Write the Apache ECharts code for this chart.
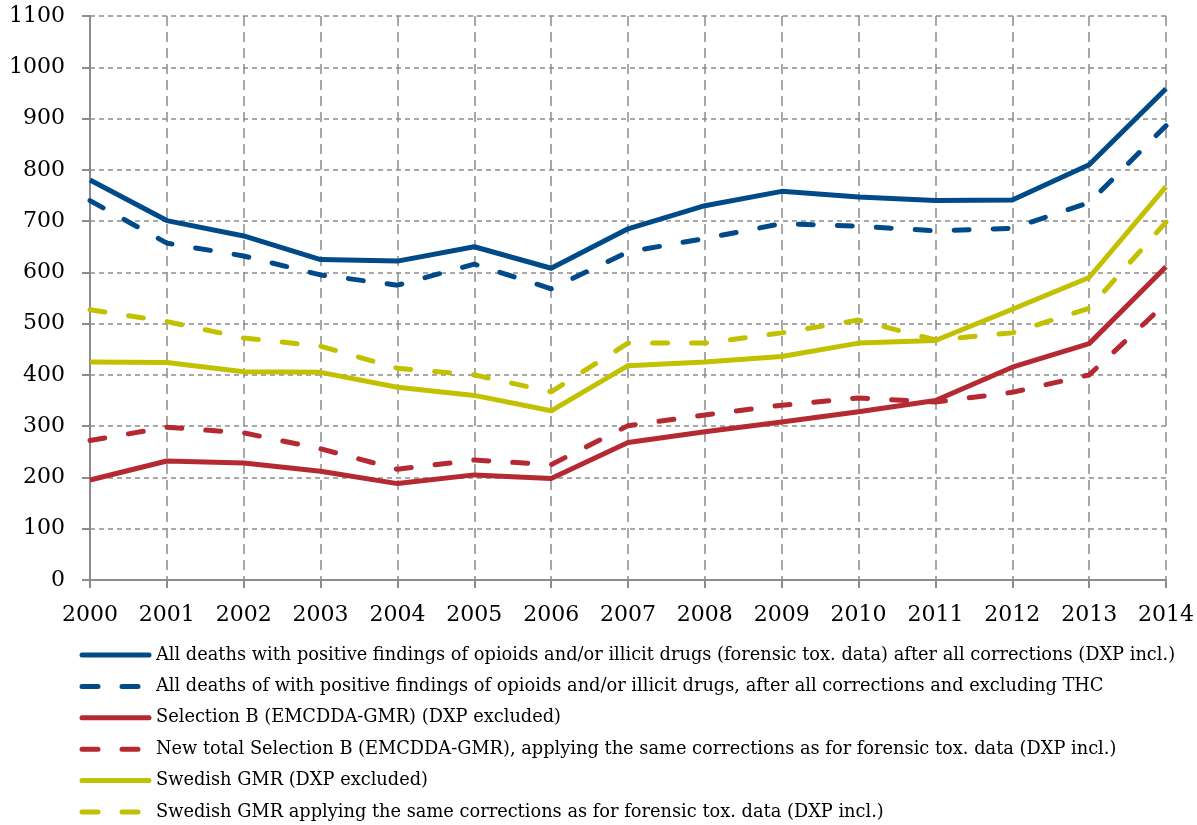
<!DOCTYPE html>
<html><head><meta charset="utf-8">
<script src="https://cdn.jsdelivr.net/npm/echarts@6/dist/echarts.min.js"></script>
<style>html,body{margin:0;padding:0;background:#fff}#c{width:1197px;height:825px}</style>
</head><body><div id="c"></div>
<script>
const years = ['2000','2001','2002','2003','2004','2005','2006','2007','2008','2009','2010','2011','2012','2013','2014'];
const allDeaths      = [780,701,671,625,622,650,608,685,730,758,747,740,741,810,958];
const allDeathsExTHC = [740,657,632,595,575,616,568,640,666,695,690,681,686,736,886];
const selB           = [195,232,228,212,188,205,198,268,289,308,328,350,415,461,611];
const selBNew        = [272,298,287,256,216,234,225,301,322,341,355,347,366,400,540];
const swedGMR        = [425,424,406,405,376,360,330,418,425,436,462,467,528,590,767];
const swedGMRNew     = [527,504,472,456,413,400,367,462,462,482,507,468,482,530,698];
const names = [
 'All deaths with positive findings of opioids and/or illicit drugs (forensic tox. data) after all corrections (DXP incl.)',
 'All deaths of with positive findings of opioids and/or illicit drugs, after all corrections and excluding THC',
 'Selection B (EMCDDA-GMR) (DXP excluded)',
 'New total Selection B (EMCDDA-GMR), applying the same corrections as for forensic tox. data (DXP incl.)',
 'Swedish GMR (DXP excluded)',
 'Swedish GMR applying the same corrections as for forensic tox. data (DXP incl.)'
];
const dashedFlags = [false,true,false,true,false,true];
const BLUE='#004a8a', RED='#b52a32', YEL='#c2c000';
const colors = [BLUE,BLUE,RED,RED,YEL,YEL];
const seriesData = [allDeaths, allDeathsExTHC, selB, selBNew, swedGMR, swedGMRNew];
const FONT='DejaVu Serif';
function mk(i){
  const dashed = dashedFlags[i], color = colors[i];
  return {name:names[i], type:'line', data:seriesData[i], symbol:'none', animation:false,
    lineStyle:{color, width:5, type: dashed ? [15,24] : 'solid', cap: dashed?'round':'butt', join:'round'},
    itemStyle:{color}};
}
const chart = echarts.init(document.getElementById('c'), null, {renderer:'canvas'});
chart.setOption({
  animation:false,
  grid:{left:90, right:31, top:16, height:564},
  legend:{orient:'vertical', left:79.5, top:645, height:185, padding:0,
    itemWidth:67, itemHeight:20, itemGap:11.4,
    itemStyle:{opacity:0},
    textStyle:{fontFamily:FONT, fontSize:17.8, lineHeight:20, color:'#000', padding:[0,0,0,2]},
    data:names.map((n,i)=>({name:n, lineStyle:{width:5, cap:'round', type: dashedFlags[i] ? [16,24] : 'solid'}}))},
  xAxis:{type:'category', data:years, boundaryGap:false,
    axisLine:{lineStyle:{color:'#8c8c8c', width:2}},
    axisTick:{show:true, length:8, lineStyle:{color:'#8c8c8c', width:2}},
    axisLabel:{fontFamily:FONT, fontSize:22, color:'#000', margin:24, interval:0},
    splitLine:{show:true, lineStyle:{color:'#8c8c8c', type:[10,6], width:1.5}}},
  yAxis:{type:'value', min:0, max:1100, interval:100,
    axisLine:{show:true, lineStyle:{color:'#8c8c8c', width:2}},
    axisTick:{show:true, length:8, lineStyle:{color:'#8c8c8c', width:2}},
    axisLabel:{fontFamily:FONT, fontSize:22, color:'#000', margin:25, formatter:v=>String(v)},
    splitLine:{show:true, lineStyle:{color:'#8c8c8c', type:[5,4], width:1.5}}},
  series:[0,1,2,3,4,5].map(mk)
});
</script></body></html>
